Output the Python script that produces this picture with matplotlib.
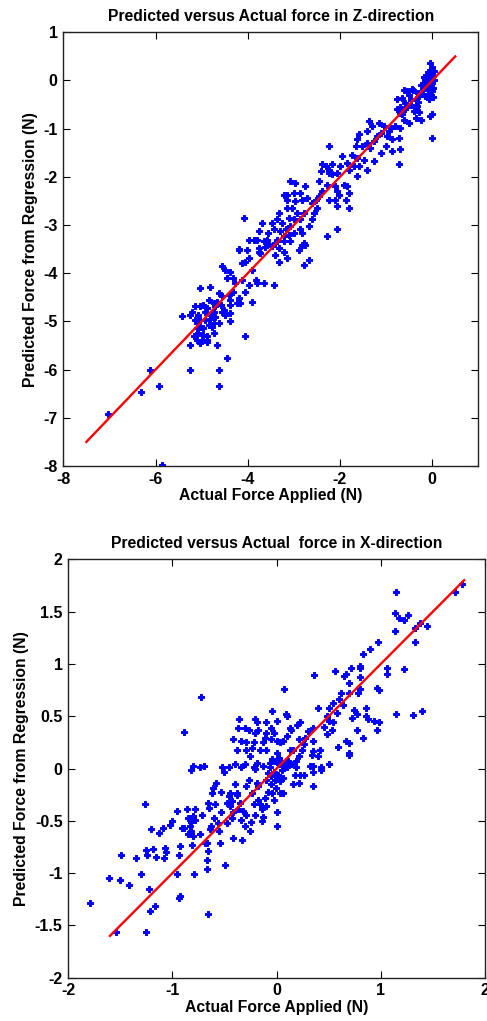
import matplotlib
matplotlib.use("Agg")
import matplotlib.pyplot as plt
import numpy as np

plt.rcParams['font.family'] = ['Liberation Sans', 'DejaVu Sans']
plt.rcParams['font.weight'] = 'bold'
plt.rcParams['axes.unicode_minus'] = False

# ---------------- Z-direction data (actual, predicted) ----------------
z_actual = [
    -0.05, -0.03, 0.0, -0.08, -0.12, -0.02, 0.02, -0.15, -0.06, 0.0, -0.1, -0.18, -0.04, 0.02, -0.13, -0.08, 0.0,
    -0.2, -0.1, -0.03, 0.01, -0.15, -0.07, -0.22, -0.12, -0.05, 0.03, -0.17, -0.25, -0.3, -0.09, 0.04, -0.01,
    0.0, -0.04, 0.0, -0.25, -0.4, -0.36, -0.5, -0.62, -0.43, -0.54, -0.76, -0.76, -0.65, -0.58, -0.69, -0.62,
    -0.47, -0.33, -0.29, -0.36, -0.8, -0.9, -1.05, -0.94, -0.69, -0.72, -0.87, -0.98, -1.12, -1.19, -1.27,
    -1.37, -1.16, -1.3, -1.41, -1.59, -1.63, -1.66, -1.52, -1.41, -1.34, -0.72, -0.69, -0.87, -1.01, -1.12,
    -1.27, -1.41, -1.63, -1.74, -1.7, -1.81, -1.63, -1.59, -1.48, -1.95, -1.84, -1.99, -2.06, -1.92, -1.84,
    -1.81, -1.88, -1.81, -2.1, -2.03, -2.17, -2.24, -2.17, -2.31, -2.39, -2.42, -2.24, -2.06, -2.1, -2.06,
    -2.28, -2.39, -2.46, -2.46, -2.53, -2.6, -2.5, -2.6, -2.68, -2.57, -2.71, -2.82, -2.75, -2.86, -2.24, -2.24,
    -0.5, -0.45, -0.55, -0.35, -0.3, -0.42, -0.6, -0.65, -0.7, -0.28,
    -2.97, -3.08, -3.0, -3.15, -3.22, -3.15, -3.04, -2.93, -2.86, -3.0, -3.11, -3.08, -3.18, -3.29, -3.26,
    -3.37, -3.47, -3.44, -3.55, -3.58, -3.37, -3.22, -3.11, -3.0, -2.86, -2.78, -2.82, -2.97, -2.78, -3.15,
    -3.33, -3.69, -3.76, -3.65, -3.87, -4.08, -2.28, -2.06, -3.47, -3.58, -3.4, -3.33, -3.76, -3.98, -4.2,
    -3.8, -3.58, -3.36, -3.22, -3.08, -2.89, -2.82, -2.75, -2.68, -2.79, -3.33, -3.15, -3.22, -3.4, -3.44,
    -3.65, -3.8, -3.83, -3.62, -3.73, -3.76, -4.02, -3.98, -4.05, -4.12, -4.2, -3.91, -3.98, -3.91, -4.05,
    -4.12, -4.2, -4.23, -4.16, -4.31, -4.27, -4.38, -4.49, -4.31, -4.56, -4.45, -4.38, -4.41, -4.56, -4.59,
    -4.38, -4.52, -4.49, -4.38, -4.56, -4.38, -4.63, -4.67, -4.7, -4.81, -4.74, -4.7, -4.81, -4.96, -4.92,
    -5.03, -4.88, -5.03, -4.92, -4.81, -4.74, -4.63, -4.78, -4.85, -4.96, -5.1, -5.14, -5.21, -5.25, -5.07,
    -5.1, -5.07, -4.96, -4.88, -4.88, -5.03, -5.1, -5.0, -4.88, -5.25, -4.67, -5.03, -5.14, -5.43, -4.45,
    -4.05, -5.25, -4.63, -4.63, -6.11, -5.93, -6.31, -7.04, -5.86, -4.74, -5.17, -5.03, -4.85, -4.74,
]
z_predicted = [
    0.37, 0.2, 0.15, 0.1, 0.05, 0.05, 0.1, 0.0, -0.02, -0.05, -0.08, -0.05, -0.12, -0.15, -0.15, -0.2, -0.22,
    -0.18, -0.28, -0.3, -0.35, -0.32, -0.38, -0.28, 0.12, 0.22, 0.0, 0.08, -0.1, -0.25, 0.18, 0.2, 0.28,
    -1.19, -0.74, -0.7, -0.81, -0.64, -0.77, -0.88, -0.19, -0.17, -0.22, -0.39, -0.6, -0.36, -0.46, -0.67, -0.81,
    -0.5, -0.53, -0.33, -0.39, -0.95, -0.98, -0.95, -1.05, -0.98, -1.19, -1.22, -1.15, -1.09, -1.15, -1.26,
    -0.84, -0.88, -0.95, -1.05, -1.12, -1.22, -1.36, -1.36, -1.29, -1.4, -1.74, -1.43, -1.47, -1.36, -1.5,
    -1.67, -1.85, -1.6, -1.54, -1.78, -1.85, -1.98, -1.78, -1.64, -1.57, -1.71, -1.78, -1.92, -2.16, -2.19,
    -2.33, -2.47, -2.64, -2.19, -2.37, -1.74, -1.85, -1.95, -1.78, -1.74, -1.88, -1.36, -2.3, -2.47, -2.61,
    -2.16, -2.3, -2.09, -2.4, -2.47, -2.54, -2.64, -2.88, -3.02, -2.75, -2.43, -2.47, -2.19, -2.33, -2.47, -1.92,
    -0.3, -0.4, -0.55, -0.55, -0.45, -0.2, -0.6, -0.7, -0.55, -0.65,
    -2.12, -2.09, -2.33, -2.47, -2.37, -2.64, -2.64, -2.75, -2.88, -2.88, -2.85, -3.02, -3.09, -3.13, -2.95,
    -2.88, -2.95, -3.09, -3.16, -3.3, -3.3, -3.23, -3.2, -3.16, -3.09, -3.37, -3.16, -2.5, -2.75, -2.37,
    -2.75, -2.95, -3.13, -3.34, -3.3, -2.85, -3.23, -3.09, -3.44, -3.4, -3.37, -3.47, -3.47, -3.3, -3.49,
    -3.31, -3.38, -3.34, -3.34, -3.34, -3.52, -3.41, -3.41, -3.72, -3.83, -3.76, -3.69, -3.55, -3.62, -4.24,
    -4.21, -4.21, -4.14, -3.45, -3.59, -3.55, -3.52, -3.69, -3.76, -3.79, -3.52, -3.93, -4.24, -4.59, -4.38,
    -4.14, -4.52, -4.62, -4.62, -4.38, -4.21, -3.97, -3.93, -4.1, -3.86, -4.1, -4.55, -4.45, -4.48, -4.66,
    -4.66, -4.76, -4.87, -4.83, -4.8, -5.0, -4.41, -4.59, -4.69, -4.28, -4.8, -4.9, -4.87, -4.66, -4.8,
    -4.69, -4.73, -4.97, -4.97, -4.94, -5.04, -5.04, -5.11, -5.07, -5.14, -5.04, -4.97, -4.8, -4.87, -4.87,
    -5.14, -5.25, -5.28, -5.31, -5.38, -5.45, -5.38, -5.38, -5.42, -5.49, -5.49, -4.31, -4.69, -4.89, -5.76,
    -5.3, -6.0, -6.0, -6.33, -6.0, -6.33, -6.47, -6.92, -7.98, -5.25, -5.31, -5.11, -4.55, -4.62,
]
z_fit_x = [-7.5, 0.5]
z_fit_y = [-7.5, 0.5]

# ---------------- X-direction data (actual, predicted) ----------------
x_actual = [
    1.78, 1.71, 1.15, 1.14, 1.17, 1.22, 1.26, 1.14, 1.38, 1.33, 1.44, 1.33, 1.22, 1.06, 1.06, 1.15, 1.31, 1.4,
    0.97, 0.9, 0.83, 0.8, 0.8, 0.71, 0.67, 0.65, 0.56, 0.69, 0.8, 0.8, 0.96, 0.98, 0.78, 0.69, 0.62, 0.6, 0.54,
    0.64, 0.5, 0.58, 0.4, 0.36, 0.48, 0.5, 0.54, 0.45, 0.74, 0.77, 0.72, 0.86, 0.86, 0.88, 0.93, 0.98, 0.96,
    0.83, 0.77, 0.67, 0.69, 0.69, 0.69, 0.59, 0.53, 0.48, 0.5, 0.42, 0.4, 0.35, 0.34, 0.35, 0.35, 0.3, 0.27,
    0.26, 0.21, 0.2, 0.22, 0.14, 0.13, 0.1, 0.09, 0.07, 0.1, 0.03, 0.06, 0.0, -0.05, 0.0, -0.04, -0.02, 0.02,
    0.05, 0.13, 0.16, 0.21, 0.24, 0.19, 0.13, 0.1, 0.35, 0.43, -0.03, -0.05, -0.1, -0.1, 0.0, -0.04, -0.1,
    -0.11, -0.13, -0.16, -0.18, -0.19, -0.21, -0.21, -0.22, -0.29, -0.27, -0.3, -0.22, -0.34, -0.19, -0.26,
    -0.24, -0.29, -0.34, -0.36, -0.37, -0.42, -0.38, -0.4, -0.3, -0.46, -0.73, -0.89, -0.8, -0.7, -0.52,
    -1.79, -1.61, -1.5, -1.42, -1.49, -1.35, -1.3, -1.26, -1.25, -1.24, -1.21, -1.19, -1.23, -1.22, -1.17,
    -1.25, -1.54, -1.16, -1.13, -1.09, -1.07, -1.08, -1.06, -0.96, -1.02, -1.0, -0.93, -0.94, -0.96, -0.93,
    -0.94, -0.91, -0.89, -0.86, -0.85, -0.83, -0.82, -0.85, -0.82, -0.8, -0.78, -0.8, -0.81, -0.79, -0.78,
    -0.72, -0.74, -0.69, -0.67, -0.67, -0.67, -0.66, -0.66, -0.66, -0.65, -0.64, -0.63, -0.62, -0.61, -0.59,
    -0.6, -0.58, -0.56, -0.55, -0.54, -0.53, -0.53, -0.51, -0.5, -0.48, -0.48, -0.46, -0.45, -0.45, -0.43,
    -0.43, -0.42, -0.42, -0.4, -0.38, -0.37, -0.38, -0.35, -0.34, -0.33, -0.32, -0.3, -0.29, -0.29, -0.27,
    -0.26, -0.25, -0.24, -0.22, -0.21, -0.21, -0.19, -0.18, -0.18, -0.16, -0.14, -0.14, -0.13, -0.13, -0.11,
    -0.1, -0.1, -0.08, -0.08, -0.06, -0.06, -0.05, -0.05, -0.04, -0.03, -0.03, -0.02, -0.01, 0.0, 0.0, 0.01,
    0.02, 0.03, 0.03, 0.05, 0.06, 0.06, 0.08, 0.11, 0.14, 0.16, 0.18, 0.19, 0.21, 0.22, 0.26, 0.32, 0.35,
    0.35, 0.43, 0.5, -0.74, -0.82, -0.7,
]
x_predicted = [
    1.76, 1.69, 1.69, 1.49, 1.44, 1.42, 1.47, 1.31, 1.39, 1.34, 1.36, 1.21, 0.95, 0.96, 0.9, 0.52, 0.51, 0.55,
    1.21, 1.14, 1.09, 0.98, 0.96, 0.96, 0.9, 0.88, 0.93, 0.82, 0.87, 0.76, 0.77, 0.75, 0.72, 0.72, 0.72, 0.66,
    0.63, 0.61, 0.58, 0.53, 0.58, 0.89, 0.5, 0.45, 0.44, 0.4, 0.56, 0.52, 0.48, 0.58, 0.5, 0.47, 0.45, 0.44,
    0.37, 0.29, 0.37, 0.26, 0.24, 0.15, 0.13, 0.21, 0.37, 0.33, 0.04, 0.18, 0.12, 0.17, 0.13, 0.26, 0.39, 0.36,
    0.29, 0.23, 0.28, 0.42, 0.44, 0.37, 0.39, 0.5, 0.52, 0.76, 0.31, 0.25, 0.26, 0.26, 0.28, 0.15, 0.09, 0.07,
    0.1, 0.05, 0.18, 0.18, 0.12, 0.18, 0.07, 0.04, 0.01, 0.02, 0.01, 0.34, 0.39, 0.34, 0.44, 0.45, 0.55, 0.18,
    0.29, 0.25, 0.18, 0.37, 0.44, 0.47, 0.34, 0.25, 0.18, 0.37, 0.39, 0.01, 0.01, 0.05, 0.12, 0.2, 0.25, 0.26,
    0.47, 0.39, 0.28, 0.18, 0.04, 0.04, 0.01, 0.68, 0.35, 0.02, 0.02, 0.01,
    -1.29, -1.05, -1.07, -1.11, -0.83, -0.86, -1.01, -0.34, -0.78, -0.83, -0.58, -0.77, -1.15, -1.36, -1.31,
    -1.56, -1.56, -0.85, -0.62, -0.57, -0.76, -0.86, -0.8, -0.41, -0.54, -0.5, -0.74, -0.83, -1.01, -1.22,
    -1.24, -0.57, -0.57, -0.39, -0.47, -0.55, -0.6, -0.63, -0.51, -0.45, -0.49, -0.65, -0.73, -1.01, -0.39,
    -0.44, -0.63, -0.71, -0.71, -0.87, -0.96, -1.39, -0.79, -0.33, -0.38, -0.58, -0.55, -0.23, -0.19, -0.34,
    -0.47, -0.14, -0.52, -0.6, -0.71, -0.42, -0.22, -0.03, -0.92, -0.33, -0.52, -0.26, -0.23, -0.36, -0.31,
    -0.47, -0.66, -0.42, -0.15, -0.25, -0.39, -0.23, -0.33, -0.49, -0.68, -0.41, -0.55, -0.44, -0.17, -0.11,
    -0.6, -0.51, -0.23, -0.34, -0.44, 0.0, -0.14, -0.3, -0.17, -0.34, -0.5, -0.39, 0.02, -0.46, -0.28,
    -0.36, -0.11, -0.04, -0.22, 0.05, 0.01, -0.07, -0.15, -0.23, -0.3, -0.03, -0.11, -0.19, -0.42, -0.55, -0.06,
    0.04, -0.12, -0.23, -0.01, -0.09, -0.23, 0.02, 0.07, 0.04, -0.15, -0.06, 0.01, -0.14, -0.06, -0.06, 0.02, -0.17,
    -0.03, -0.01, 0.04, 0.01, -0.01, 0.02,
]
x_fit_x = [-1.6, 1.8]
x_fit_y = [-1.6, 1.8]

W, H = 487, 1021
fig = plt.figure(figsize=(W / 100, H / 100), dpi=100)

def style(ax):
    for s in ax.spines.values():
        s.set_linewidth(1.0)
        s.set_color('#222222')
    ax.tick_params(direction='in', length=5, width=0.8, top=True, right=True,
                   labelsize=11.5, pad=4, colors='black')
    for lab in ax.get_xticklabels() + ax.get_yticklabels():
        lab.set_fontweight('bold')

MS = 20

# Top panel
ax1 = fig.add_axes([63.3 / W, 1 - 466 / H, (478.3 - 63.3) / W, (466 - 32.3) / H])
ax1.scatter(z_actual, z_predicted, s=MS, marker='P', color='#0000ff',
            edgecolors='#0000ff', linewidths=0.7, zorder=2)
ax1.plot(z_fit_x, z_fit_y, color='#ff0000', lw=1.7, zorder=3)
ax1.set_xlim(-8, 1)
ax1.set_ylim(-8, 1)
ax1.set_xticks([-8, -6, -4, -2, 0])
ax1.set_yticks([1, 0, -1, -2, -3, -4, -5, -6, -7, -8])
ax1.set_title('Predicted versus Actual force in Z-direction', fontsize=11.3, fontweight='bold', pad=8)
ax1.set_xlabel('Actual Force Applied (N)', fontsize=11.3, fontweight='bold', labelpad=1)
ax1.set_ylabel('Predicted Force from Regression (N)', fontsize=11.3, fontweight='bold', labelpad=4)
style(ax1)

# Bottom panel
ax2 = fig.add_axes([68.3 / W, 1 - 977.7 / H, (485 - 68.3) / W, (977.7 - 559.3) / H])
ax2.scatter(x_actual, x_predicted, s=MS, marker='P', color='#0000ff',
            edgecolors='#0000ff', linewidths=0.7, zorder=2)
ax2.plot(x_fit_x, x_fit_y, color='#ff0000', lw=1.7, zorder=3)
ax2.set_xlim(-2, 2)
ax2.set_ylim(-2, 2)
ax2.set_xticks([-2, -1, 0, 1, 2])
ax2.set_yticks([2, 1.5, 1, 0.5, 0, -0.5, -1, -1.5, -2])
ax2.set_yticklabels(['2', '1.5', '1', '0.5', '0', '-0.5', '-1', '-1.5', '-2'])
ax2.set_title('Predicted versus Actual  force in X-direction', fontsize=11.3, fontweight='bold', pad=8)
ax2.set_xlabel('Actual Force Applied (N)', fontsize=11.3, fontweight='bold', labelpad=1)
ax2.set_ylabel('Predicted Force from Regression (N)', fontsize=11.3, fontweight='bold', labelpad=4)
style(ax2)

fig.savefig('out.png', dpi=100)
